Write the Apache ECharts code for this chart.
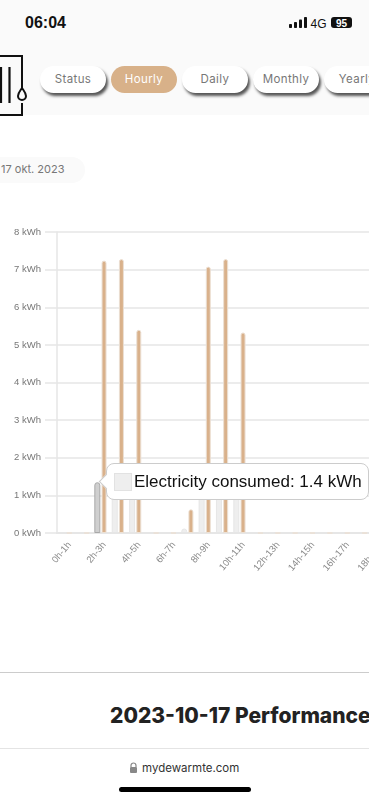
<!DOCTYPE html>
<html>
<head>
<meta charset="utf-8">
<script src="https://cdn.jsdelivr.net/npm/echarts@6/dist/echarts.min.js"></script>
<style>
html,body{margin:0;padding:0;background:#fff;width:369px;height:800px;overflow:hidden;font-family:"Liberation Sans",sans-serif}
.abs{position:absolute;white-space:nowrap}
#top{position:absolute;left:0;top:0;width:369px;height:115px;background:#fafafa}
.pill{position:absolute;top:66px;width:66px;height:27px;border-radius:14px;background:#fff;box-shadow:2px 3px 3px #555;text-align:center;font:11.500px/26px Inter,sans-serif;letter-spacing:.4px;color:#777;white-space:nowrap;overflow:hidden}
.on{background:#d8b189;color:#fff;box-shadow:none}
#clip{position:absolute;left:0;top:200px;width:369px;height:420px;overflow:hidden}
#chart{position:absolute;left:0;top:0;width:520px;height:420px}
</style>
</head>
<body>
<div id="top"></div>
<div class="abs" style="left:25px;top:13px;font:700 16px/20px 'Liberation Sans';color:#111">06:04</div>
<svg class="abs" style="left:288px;top:15px" width="70" height="16" viewBox="0 0 70 16">
<rect x="1" y="9" width="3" height="4" rx=".8" fill="#111"/><rect x="6" y="7" width="3" height="6" rx=".8" fill="#111"/><rect x="11" y="4.500" width="3" height="8.500" rx=".8" fill="#111"/><rect x="16" y="2" width="3" height="11" rx=".8" fill="#111"/>
<text x="22.500" y="13" font-family="Liberation Sans" font-size="12" fill="#111">4G</text>
<rect x="43" y="2" width="21" height="11" rx="3" fill="#111"/><text x="53.500" y="11.500" text-anchor="middle" font-family="Liberation Sans" font-weight="700" font-size="10" fill="#fff">95</text>
</svg>
<svg class="abs" style="left:0;top:54px" width="28" height="62" viewBox="0 0 28 62" fill="none" stroke="#111">
<path d="M0 2H22V34M22 49V61H0" stroke-width="2"/>
<path d="M1 13V49M9.500 13V49" stroke-width="2.200"/>
<path d="M22 34c-2 3-4 5-4 8a4 4 0 0 0 8 0c0-3-2-5-4-8z" stroke-width="2"/>
</svg>
<div class="pill" style="left:40px">Status</div>
<div class="pill on" style="left:111px">Hourly</div>
<div class="pill" style="left:182px">Daily</div>
<div class="pill" style="left:253px">Monthly</div>
<div class="pill" style="left:324px;width:66px">Yearly</div>
<div class="abs" style="left:-20px;top:157px;width:105px;height:26px;border-radius:13px;background:#fafafa"></div>
<div class="abs" style="left:1px;top:161px;font:11px/16px Inter,sans-serif;color:#777">17 okt. 2023</div>
<div id="clip"><div id="chart"></div></div>
<div class="abs" style="left:0;top:672px;width:369px;height:1px;background:#ccc"></div>
<div class="abs" style="left:110px;top:703px;font:800 21px/26px Inter,sans-serif;color:#222">2023-10-17 Performance</div>
<div class="abs" style="left:0;top:748px;width:369px;height:1px;background:#e4e4e4"></div>
<svg class="abs" style="left:129px;top:762px" width="9" height="12" viewBox="0 0 9 12"><path d="M2 5V3.500a2.500 2.500 0 0 1 5 0V5" fill="none" stroke="#888" stroke-width="1.200"/><rect x="1" y="5" width="7" height="6" rx="1" fill="#888"/></svg>
<div class="abs" style="left:142px;top:760px;font:11.500px/16px Inter,sans-serif;color:#333">mydewarmte.com</div>
<div class="abs" style="left:119px;top:787px;width:132px;height:5px;border-radius:3px;background:#000"></div>
<script>
var categories = ['0h-1h','1h-2h','2h-3h','3h-4h','4h-5h','5h-6h','6h-7h','7h-8h','8h-9h','9h-10h','10h-11h','11h-12h','12h-13h','13h-14h','14h-15h','15h-16h','16h-17h','17h-18h','18h-19h','19h-20h','20h-21h','21h-22h','22h-23h','23h-24h'];
var electricityConsumed = [0,0,1.35,1.4,1.4,0,0,0.12,1.4,1.4,1.4,0,0,0,0,0,0,0,0,0,0,0,0,0];
var heatProduced = [0,0,7.24,7.28,5.4,0,0,0.63,7.08,7.28,5.33,0,0,0,0,0,0,0,0,0,0,0,0,0];
var tooltipLabel = 'Electricity consumed: 1.4 kWh';
var activeIndex = 2;

var chart = echarts.init(document.getElementById('chart'), null, {renderer:'canvas'});
chart.setOption({
  animation:false,
  grid:{left:57,top:32,height:301,width:417,containLabel:false},
  tooltip:{
    trigger:'item',confine:false,transitionDuration:0,padding:0,borderWidth:0,
    backgroundColor:'transparent',
    extraCssText:'box-shadow:none;',
    position:function(){return [106,263];},
    formatter:function(){
      return '<div style="position:relative;width:263px;height:37px;background:#fff;border:1px solid #ccc;box-sizing:border-box;border-radius:8px;font:17px/35px \'Liberation Sans\',sans-serif;color:#111;white-space:nowrap">'
      +'<div style="position:absolute;left:-6px;top:12px;width:11px;height:11px;background:#fff;transform:rotate(45deg);border-left:1px solid #ccc;border-bottom:1px solid #ccc;box-sizing:border-box"></div>'
      +'<span style="position:absolute;left:7px;top:9px;width:18px;height:18px;background:#eee;border:1px solid #e2e2e2;box-sizing:border-box"></span>'
      +'<span style="position:absolute;left:27px;top:0">'+tooltipLabel+'</span></div>';
    }
  },
  xAxis:{
    type:'category',data:categories,
    axisLine:{lineStyle:{color:'#e6e6e6',width:2}},axisTick:{show:false},
    axisLabel:{interval:1,rotate:50,color:'#8a8a8a',fontSize:9.500,fontFamily:'Liberation Sans',margin:7,verticalAlign:'top',hideOverlap:false},
    splitLine:{show:false}
  },
  yAxis:{
    type:'value',min:0,max:8,interval:1,
    axisLine:{show:true,lineStyle:{color:'#e6e6e6',width:1.500}},
    axisTick:{show:true,length:12,lineStyle:{color:'#e6e6e6',width:1.500}},
    axisLabel:{formatter:'{value} kWh',color:'#777',fontSize:9.500,fontFamily:'Liberation Sans',margin:16},
    splitLine:{lineStyle:{color:'#e6e6e6',width:1.500}}
  },
  series:[
    {name:'Electricity consumed',type:'bar',barWidth:6,barGap:'20%',
     itemStyle:{color:'#eeeeee',borderColor:'#e6e6e6',borderWidth:1,borderRadius:[3,3,0,0]},
     data:electricityConsumed.map(function(v,i){
       return i===activeIndex?{value:v,itemStyle:{color:'#cfcfcf',borderColor:'#a8a8a8',borderWidth:1,borderRadius:[3,3,0,0]}}:v;
     })},
    {name:'Heat produced',type:'bar',barWidth:5,z:3,
     itemStyle:{color:'#d9b18b',borderColor:'#ece0d4',borderWidth:1,borderRadius:[2.500,2.500,0,0]},
     data:heatProduced}
  ]
});
chart.dispatchAction({type:'showTip',seriesIndex:0,dataIndex:activeIndex});
</script>
</body>
</html>
